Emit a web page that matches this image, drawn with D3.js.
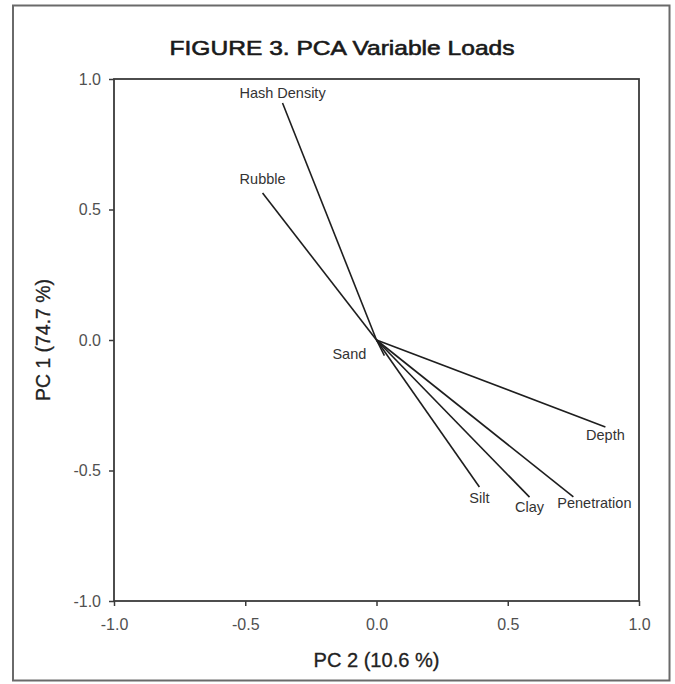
<!DOCTYPE html>
<html>
<head>
<meta charset="utf-8">
<script src="https://cdn.jsdelivr.net/npm/d3@7"></script>
<style>
  html, body { margin: 0; padding: 0; background: #fff; }
  svg { display: block; font-family: "Liberation Sans", Arial, Helvetica, sans-serif; }
</style>
</head>
<body>
<svg id="chart" width="675" height="684"></svg>
<script>
// PCA loadings: PC 2 on the horizontal axis, PC 1 on the vertical axis
const variables = ["Hash Density", "Rubble", "Sand", "Depth", "Silt", "Clay", "Penetration"];
const pc2Loads  = [-0.358, -0.434, 0.030, 0.872, 0.392, 0.583, 0.750];
const pc1Loads  = [ 0.908,  0.563, -0.060, -0.333, -0.563, -0.602, -0.601];
const tickValues = [-1.0, -0.5, 0.0, 0.5, 1.0];
const titleText = "FIGURE 3. PCA Variable Loads";
const xTitle = "PC 2 (10.6 %)";
const yTitle = "PC 1 (74.7 %)";

const svg = d3.select("#chart");
const plot = { left: 114, right: 639, top: 79, bottom: 601 };

// outer figure frame
svg.append("rect")
  .attr("x", 13).attr("y", 5.5)
  .attr("width", 656.5).attr("height", 675)
  .attr("fill", "none").attr("stroke", "#6a6a6a").attr("stroke-width", 2);

// medium-weight title: regular face with a thin outline
svg.append("text")
  .attr("x", 342).attr("y", 55)
  .attr("text-anchor", "middle")
  .attr("font-size", 21).attr("fill", "#1a1a1a")
  .attr("stroke", "#1a1a1a").attr("stroke-width", 0.6)
  .attr("textLength", 345).attr("lengthAdjust", "spacingAndGlyphs")
  .text(titleText);

const x = d3.scaleLinear().domain([-1, 1]).range([plot.left, plot.right]);
const y = d3.scaleLinear().domain([-1, 1]).range([plot.bottom, plot.top]);
// plain hyphen for negative tick values
const fmt = v => d3.format(".1f")(v).replace("\u2212", "-");

// plot box
svg.append("rect")
  .attr("x", plot.left).attr("y", plot.top)
  .attr("width", plot.right - plot.left).attr("height", plot.bottom - plot.top)
  .attr("fill", "none").attr("stroke", "#3a3a3a").attr("stroke-width", 1.8);

const xAxis = svg.append("g")
  .attr("transform", `translate(0,${plot.bottom})`)
  .call(d3.axisBottom(x).tickValues(tickValues).tickFormat(fmt).tickSize(5).tickPadding(13));
const yAxis = svg.append("g")
  .attr("transform", `translate(${plot.left},0)`)
  .call(d3.axisLeft(y).tickValues(tickValues).tickFormat(fmt).tickSize(5).tickPadding(8));

[xAxis, yAxis].forEach(g => {
  g.select(".domain").remove();
  g.selectAll(".tick line").attr("stroke", "#3a3a3a").attr("stroke-width", 1.5);
  g.selectAll(".tick text")
    .attr("font-family", "Liberation Sans, Arial, sans-serif")
    .attr("font-size", 16).attr("fill", "#505050");
});

// axis titles
svg.append("text")
  .attr("x", x(0)).attr("y", 667)
  .attr("text-anchor", "middle")
  .attr("font-size", 19.5).attr("fill", "#222")
  .attr("stroke", "#222").attr("stroke-width", 0.3)
  .attr("textLength", 126).attr("lengthAdjust", "spacingAndGlyphs")
  .text(xTitle);
svg.append("text")
  .attr("transform", `translate(50,${y(0)}) rotate(-90)`)
  .attr("text-anchor", "middle")
  .attr("font-size", 19.5).attr("fill", "#222")
  .attr("stroke", "#222").attr("stroke-width", 0.3)
  .attr("textLength", 122).attr("lengthAdjust", "spacingAndGlyphs")
  .text(yTitle);

// loading vectors from the origin
const loads = variables.map((name, i) => ({ name, px: pc2Loads[i], py: pc1Loads[i] }));

svg.append("g").selectAll("line")
  .data(loads)
  .join("line")
  .attr("x1", x(0)).attr("y1", y(0))
  .attr("x2", d => x(d.px)).attr("y2", d => y(d.py))
  .attr("stroke", "#1e1e1e").attr("stroke-width", 1.6);

// label placement: above the tip for positive PC 1, below for negative,
// with a few labels nudged to keep them apart
const nudge = {
  "Rubble": { dx: 0, dy: -4 },
  "Sand": { dx: -35, dy: -10 },
  "Silt": { dx: 0, dy: 3 },
  "Clay": { dx: 0, dy: 2 },
  "Penetration": { dx: 21, dy: -2 }
};

svg.append("g").selectAll("text")
  .data(loads)
  .join("text")
  .attr("x", d => x(d.px) + (nudge[d.name] ? nudge[d.name].dx : 0))
  .attr("y", d => y(d.py) + (d.py > 0 ? -5 : 13) + (nudge[d.name] ? nudge[d.name].dy : 0))
  .attr("text-anchor", "middle")
  .attr("font-size", 14.5).attr("fill", "#333")
  .text(d => d.name);
</script>
</body>
</html>
